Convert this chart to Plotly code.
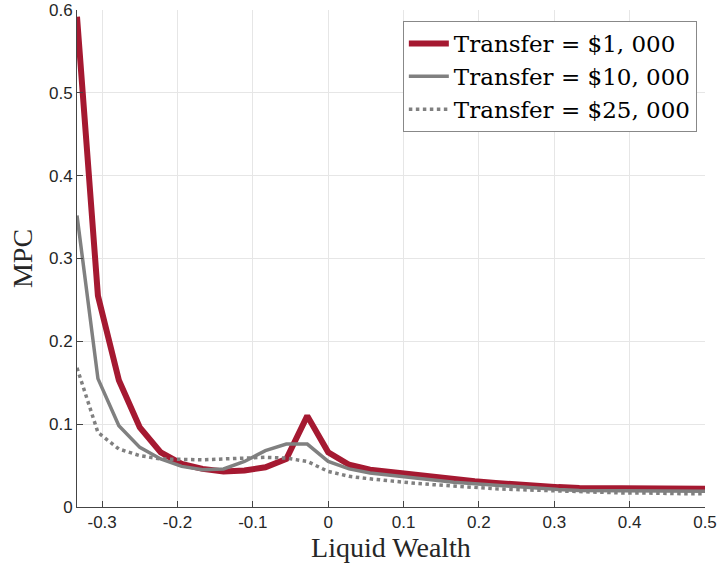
import plotly.graph_objects as go

# Liquid wealth grid (step of 1/36)
wealth = [-1/3 + i / 36 for i in range(31)]

mpc_1k = [0.592, 0.255, 0.153, 0.096, 0.066, 0.052, 0.046, 0.043, 0.044, 0.048,
          0.058, 0.110, 0.066, 0.051, 0.045, 0.042, 0.039, 0.036, 0.033, 0.031,
          0.029, 0.027, 0.025, 0.024, 0.023, 0.023, 0.022, 0.022, 0.022, 0.022, 0.022]
mpc_10k = [0.352, 0.155, 0.098, 0.072, 0.058, 0.049, 0.045, 0.046, 0.055, 0.068,
           0.076, 0.076, 0.055, 0.046, 0.041, 0.038, 0.035, 0.032, 0.030, 0.028,
           0.026, 0.024, 0.022, 0.021, 0.020, 0.020, 0.019, 0.019, 0.019, 0.019, 0.019]
mpc_25k = [0.168, 0.090, 0.070, 0.062, 0.058, 0.057, 0.057, 0.058, 0.059, 0.060,
           0.059, 0.055, 0.043, 0.037, 0.034, 0.031, 0.029, 0.027, 0.025, 0.023,
           0.022, 0.021, 0.020, 0.019, 0.018, 0.018, 0.017, 0.017, 0.016, 0.016, 0.016]

labels = ["Transfer = $1, 000", "Transfer = $10, 000", "Transfer = $25, 000"]

RED = "#A51931"
GRAY = "#808080"
SERIF = "Liberation Serif, DejaVu Serif, serif"
LEGEND_FONT = "DejaVu Serif, Liberation Serif, serif"
SANS = "Liberation Sans, Arial, sans-serif"

fig = go.Figure()
fig.add_trace(go.Scatter(x=wealth, y=mpc_1k, mode="lines", name=labels[0],
                         line=dict(color=RED, width=6)))
fig.add_trace(go.Scatter(x=wealth, y=mpc_10k, mode="lines", name=labels[1],
                         line=dict(color=GRAY, width=3.5)))
fig.add_trace(go.Scatter(x=wealth, y=mpc_25k, mode="lines", name=labels[2],
                         line=dict(color=GRAY, width=3.5, dash="dot")))

axis_style = dict(
    showgrid=True, gridcolor="#e6e6e6", gridwidth=1,
    showline=True, linecolor="#444444", linewidth=1,
    ticks="inside", ticklen=6, tickcolor="#444444",
    zeroline=False, mirror=False,
    tickfont=dict(family=SANS, size=17, color="#262626"),
)

fig.update_layout(
    width=719, height=566,
    margin=dict(l=77, r=14, t=10, b=59),
    paper_bgcolor="white", plot_bgcolor="white",
    showlegend=True,
    legend=dict(
        x=0.987, y=0.978, xanchor="right", yanchor="top",
        bgcolor="white", bordercolor="#888888", borderwidth=1,
        font=dict(family=LEGEND_FONT, size=23, color="black"),
        itemwidth=40, tracegroupgap=0,
    ),
    xaxis=dict(axis_style, range=[-1/3, 0.5], automargin="bottom",
               tickvals=[-0.3, -0.2, -0.1, 0, 0.1, 0.2, 0.3, 0.4, 0.5],
               ticktext=["-0.3", "-0.2", "-0.1", "0", "0.1", "0.2", "0.3", "0.4", "0.5"],
               title=dict(text="Liquid Wealth", font=dict(family=SERIF, size=28, color="#262626"),
                          standoff=2)),
    yaxis=dict(axis_style, range=[0, 0.6], automargin="left",
               tickvals=[0, 0.1, 0.2, 0.3, 0.4, 0.5, 0.6],
               ticktext=["0", "0.1", "0.2", "0.3", "0.4", "0.5", "0.6"],
               title=dict(text="MPC", font=dict(family=SERIF, size=28, color="#262626"),
                          standoff=8)),
)

# drop the default body margin so the figure sits at the page's top-left corner
fig.write_html("out.html", config={"displayModeBar": False},
               post_script="document.body.style.margin='0';")
